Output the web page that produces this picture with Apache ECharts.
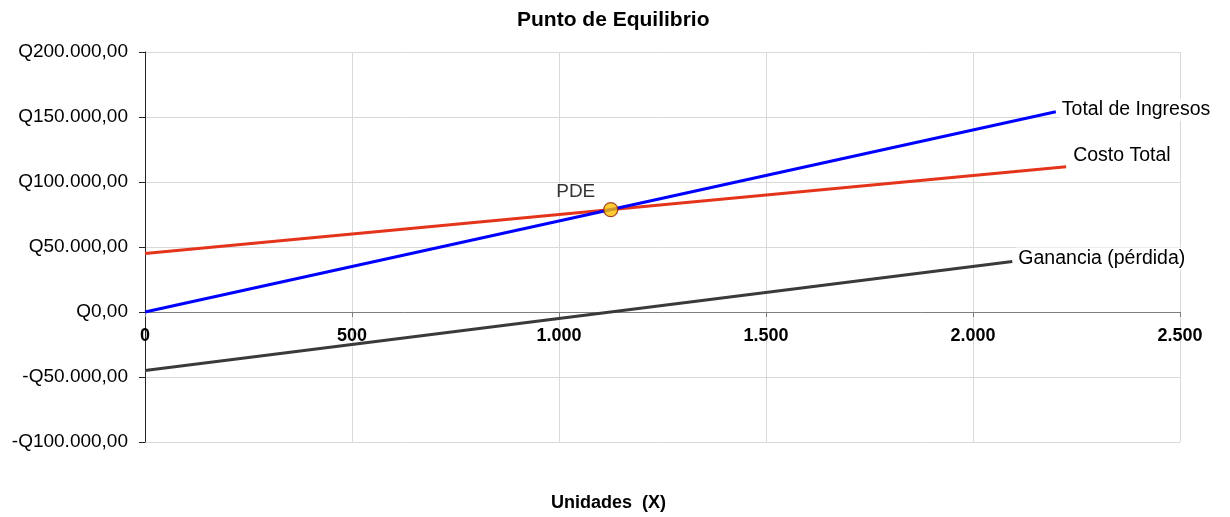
<!DOCTYPE html>
<html>
<head>
<meta charset="utf-8">
<script src="https://cdn.jsdelivr.net/npm/echarts@6/dist/echarts.min.js"></script>
<style>
html,body{margin:0;padding:0;background:#fff;}
#c{width:1230px;height:517px;}
</style>
</head>
<body>
<div id="c"></div>
<script>
// Data
const ingresosX = [0, 2200];
const ingresosY = [0, 154000];
const costoX = [0, 2225];
const costoY = [45000, 111750];
const gananciaX = [0, 2095];
const gananciaY = [-45000, 38800];
const pdeX = [1125];
const pdeY = [78750];
const seriesNames = ['Total de Ingresos', 'Costo Total', 'Ganancia (pérdida)'];
const pdeName = 'PDE';
const titleText = 'Punto de Equilibrio';
const xTitle = 'Unidades  (X)';
const yMin = -100000, yMax = 200000, yStep = 50000;
const xMin = 0, xMax = 2500, xStep = 500;

const FONT = '"Liberation Sans", Arial, sans-serif';
const GRID_TOP = 52, GRID_BOTTOM = 75, H = 517;

function fmtThousands(n) {
  return String(Math.round(n)).replace(/\B(?=(\d{3})+(?!\d))/g, '.');
}
function fmtQ(v) {
  const s = 'Q' + fmtThousands(Math.abs(v)) + ',00';
  return v < 0 ? '-' + s : s;
}
function pairs(xs, ys) { return xs.map((x, i) => [x, ys[i]]); }

// Move the x axis up to the zero line
const gridH = H - GRID_TOP - GRID_BOTTOM;
const zeroOffset = -gridH * (0 - yMin) / (yMax - yMin);

function endLabel(offset) {
  return {
    show: true, formatter: '{a}', distance: 4, offset: offset,
    color: '#000', fontFamily: FONT, fontSize: 19.5,
    backgroundColor: '#fff', padding: [1, 2]
  };
}

const chart = echarts.init(document.getElementById('c'), null, { renderer: 'canvas' });
chart.setOption({
  animation: false,
  backgroundColor: '#fff',
  title: [
    { text: titleText, left: 512, top: 5,
      textStyle: { fontFamily: FONT, fontSize: 21, fontWeight: 'bold', color: '#000' } },
    { text: xTitle, left: 546, top: 489,
      textStyle: { fontFamily: FONT, fontSize: 18, fontWeight: 'bold', color: '#000' } }
  ],
  grid: { left: 145, right: 50, top: GRID_TOP, bottom: GRID_BOTTOM, containLabel: false },
  xAxis: {
    type: 'value', min: xMin, max: xMax, interval: xStep,
    offset: zeroOffset,
    axisLine: { onZero: false, lineStyle: { color: '#7f7f7f', width: 1 } },
    axisTick: { show: true, length: 5, lineStyle: { color: '#7f7f7f' } },
    splitLine: { show: true, lineStyle: { color: '#d9d9d9', width: 1 } },
    axisLabel: {
      margin: 15, color: '#000', fontFamily: FONT, fontSize: 18, fontWeight: 'bold',
      formatter: v => fmtThousands(v)
    }
  },
  yAxis: {
    type: 'value', min: yMin, max: yMax, interval: yStep,
    axisLine: { show: true, lineStyle: { color: '#262626', width: 1 } },
    axisTick: { show: true, length: 6, lineStyle: { color: '#262626' } },
    splitLine: { show: true, lineStyle: { color: '#d9d9d9', width: 1 } },
    axisLabel: {
      margin: 17, color: '#000', fontFamily: FONT, fontSize: 19,
      formatter: v => fmtQ(v)
    }
  },
  series: [
    {
      name: seriesNames[0], type: 'line', z: 3,
      showSymbol: false, symbol: 'none',
      lineStyle: { color: '#0000ff', width: 3 },
      itemStyle: { color: '#0000ff' },
      endLabel: endLabel([0, -2]),
      data: pairs(ingresosX, ingresosY)
    },
    {
      name: seriesNames[1], type: 'line', z: 2,
      showSymbol: false, symbol: 'none',
      lineStyle: { color: '#e5341c', width: 3 },
      itemStyle: { color: '#e5341c' },
      endLabel: endLabel([1, -11]),
      data: pairs(costoX, costoY)
    },
    {
      name: seriesNames[2], type: 'line', z: 2,
      showSymbol: false, symbol: 'none',
      lineStyle: { color: '#3a3a3a', width: 3 },
      itemStyle: { color: '#3a3a3a' },
      endLabel: endLabel([0, -3]),
      data: pairs(gananciaX, gananciaY)
    },
    {
      name: pdeName, type: 'scatter', z: 5,
      symbol: 'circle', symbolSize: 14,
      itemStyle: { color: '#ffc000', borderColor: '#8b2000', borderWidth: 1.2 },
      label: {
        show: true, position: 'top', distance: 4, offset: [-35, 3],
        formatter: '{a}', color: '#000', fontFamily: FONT, fontSize: 19
      },
      data: pairs(pdeX, pdeY)
    }
  ]
});
</script>
</body>
</html>
